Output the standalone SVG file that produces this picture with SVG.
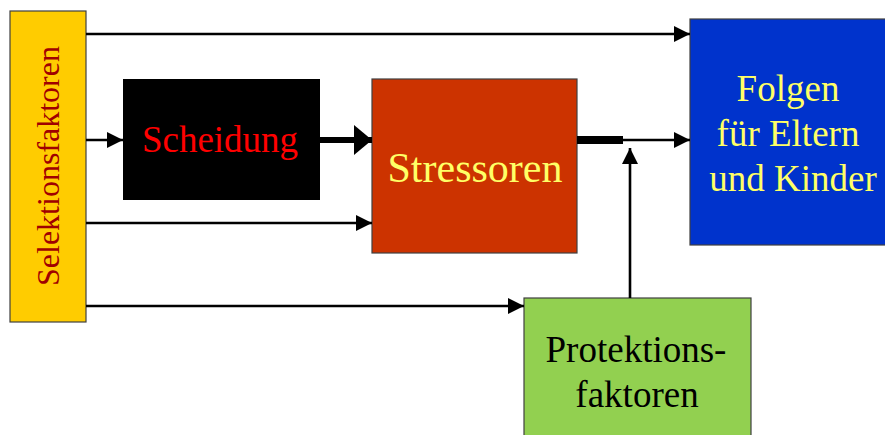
<svg xmlns="http://www.w3.org/2000/svg" width="885" height="435" viewBox="0 0 885 435">
<style>
.box{stroke:#404040;stroke-width:1.2}
.t{font-family:"Liberation Serif","Times New Roman",serif;text-anchor:middle}
.c{fill:none;stroke:#000;stroke-width:2.6}
</style>
<defs>
<marker id="ah" markerUnits="userSpaceOnUse" markerWidth="18" markerHeight="18" refX="16" refY="8" orient="auto">
<path d="M0,0 L16,8 L0,16 Z" fill="#000"/>
</marker>
<marker id="ahb" markerUnits="userSpaceOnUse" markerWidth="20" markerHeight="32" refX="18" refY="15" orient="auto">
<path d="M0,0 L18,15 L0,30 Z" fill="#000"/>
</marker>
</defs>
<rect width="885" height="435" fill="#fff"/>
<g id="selektionsfaktoren">
<rect class="box" x="10" y="11" width="76" height="311" fill="#FFCC00"/>
<text class="t" transform="translate(59,166) rotate(-90)" font-size="32" fill="#A00000">Selektionsfaktoren</text>
</g>
<g id="scheidung">
<rect x="123" y="79" width="197" height="121" fill="#000"/>
<text class="t" x="220" y="152" font-size="37" fill="#FF0000">Scheidung</text>
</g>
<g id="stressoren">
<rect class="box" x="372" y="79" width="205" height="174" fill="#CC3300"/>
<text class="t" x="475" y="182" font-size="42" fill="#FFFF66">Stressoren</text>
</g>
<g id="folgen">
<rect class="box" x="690" y="19" width="196" height="226" fill="#0033CC"/>
<text class="t" font-size="37" fill="#FFFF66"><tspan x="788" y="101">Folgen</tspan><tspan x="788" y="146">für Eltern</tspan><tspan x="793" y="191">und Kinder</tspan></text>
</g>
<g id="protektionsfaktoren">
<rect class="box" x="524" y="298" width="227" height="140" fill="#92D050"/>
<text class="t" font-size="37" fill="#000"><tspan x="636" y="362">Protektions-</tspan><tspan x="637" y="407">faktoren</tspan></text>
</g>
<g id="connectors">
<line class="c" x1="86" y1="34" x2="690" y2="34" marker-end="url(#ah)"/>
<line class="c" x1="86" y1="140" x2="123" y2="140" marker-end="url(#ah)"/>
<line class="c" x1="86" y1="223" x2="372" y2="223" marker-end="url(#ah)"/>
<line class="c" x1="86" y1="306" x2="524" y2="306" marker-end="url(#ah)"/>
<line x1="320" y1="140" x2="372" y2="140" stroke="#000" stroke-width="6" marker-end="url(#ahb)"/>
<rect x="577" y="136" width="46" height="8" fill="#000"/>
<line class="c" x1="623" y1="140" x2="690" y2="140" stroke-width="2" marker-end="url(#ah)"/>
<line class="c" x1="630" y1="298" x2="630" y2="148" marker-end="url(#ah)"/>
</g>
</svg>
